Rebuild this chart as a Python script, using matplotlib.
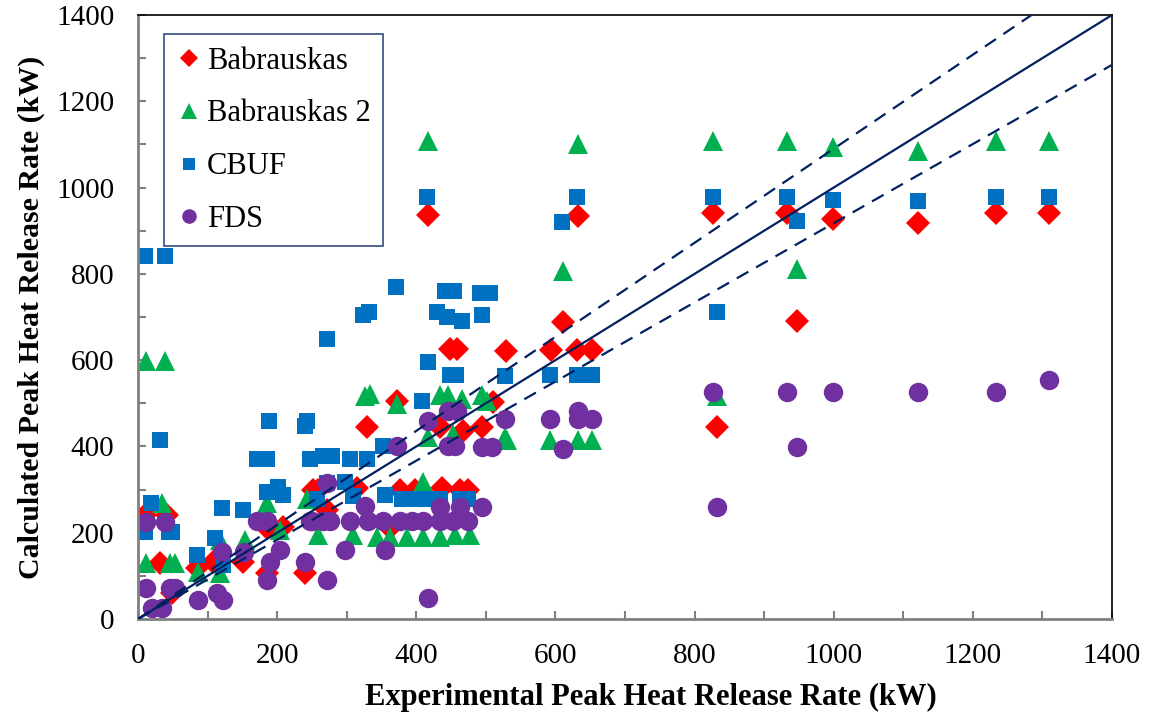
import matplotlib
matplotlib.use("Agg")
import matplotlib.pyplot as plt
import matplotlib.ticker as ticker
import numpy as np

# Babrauskas (diamonds)
bab_x = [10, 42, 32, 49, 85, 108, 151, 185, 240, 185, 208, 252, 272, 259, 315, 377, 398, 437,
         463, 474, 362, 329, 434, 467, 494, 510, 372, 448, 459, 529, 594, 631, 653, 611, 417,
         633, 826, 832, 933, 947, 999, 1121, 1233, 1310]
bab_y = [242, 242, 130, 60, 118, 133, 132, 107, 107, 211, 214, 300, 253, 300, 303, 300, 300, 303,
         300, 300, 212, 444, 444, 435, 444, 502, 505, 625, 625, 621, 623, 623, 623, 688, 937,
         935, 940, 444, 940, 691, 928, 919, 940, 940]

# Babrauskas 2 (triangles)
bab2_x = [11, 39, 34, 11, 46, 53, 86, 118, 118, 154, 204, 185, 243, 259, 309, 344, 362, 387, 410,
          434, 456, 477, 410, 326, 333, 372, 434, 446, 466, 494, 502, 417, 453, 528, 530, 592,
          633, 653, 417, 611, 633, 826, 832, 933, 947, 999, 1121, 1233, 1310]
bab2_y = [598, 598, 270, 130, 130, 130, 110, 107, 184, 184, 207, 270, 277, 195, 195, 190, 190, 190,
          190, 190, 195, 195, 318, 516, 521, 498, 520, 520, 510, 520, 505, 421, 428, 421, 416,
          416, 416, 416, 1107, 807, 1102, 1107, 516, 1107, 812, 1095, 1084, 1107, 1107]

# CBUF (squares)
cbuf_x = [10, 39, 32, 19, 10, 45, 49, 85, 110, 121, 122, 151, 171, 185, 188, 185, 201, 208, 240,
          243, 247, 266, 272, 272, 279, 305, 329, 298, 257, 309, 323, 332, 352, 355, 379, 398,
          413, 434, 463, 474, 408, 371, 415, 417, 430, 441, 444, 454, 466, 448, 457, 492, 506,
          494, 528, 592, 631, 653, 609, 631, 826, 832, 933, 947, 999, 1121, 1233, 1310]
cbuf_y = [842, 842, 416, 270, 202, 202, 202, 149, 188, 258, 125, 253, 370, 370, 458, 295, 307, 288,
          447, 458, 370, 377, 316, 649, 377, 370, 370, 318, 277, 284, 705, 712, 400, 288, 277,
          277, 277, 277, 277, 277, 505, 770, 979, 595, 711, 760, 700, 760, 690, 565, 565, 756,
          756, 705, 563, 565, 565, 565, 921, 979, 979, 711, 979, 923, 972, 970, 979, 979]

# FDS (circles)
fds_x = [11, 39, 11, 46, 53, 20, 34, 86, 113, 122, 121, 152, 171, 185, 190, 185, 204, 240, 250,
         266, 272, 247, 276, 305, 331, 352, 377, 394, 410, 434, 453, 474, 326, 434, 463, 494,
         298, 355, 272, 417, 372, 417, 446, 459, 528, 446, 456, 494, 509, 592, 633, 633, 653,
         611, 826, 832, 933, 947, 999, 1121, 1233, 1310]
fds_y = [225, 225, 72, 72, 72, 26, 26, 44, 60, 44, 156, 156, 228, 228, 133, 91, 160, 133, 226,
         226, 316, 228, 228, 228, 228, 228, 228, 228, 228, 228, 228, 228, 263, 260, 260, 260,
         160, 160, 91, 49, 400, 458, 481, 481, 463, 400, 400, 398, 398, 463, 481, 463, 463,
         395, 526, 260, 526, 398, 526, 526, 526, 553]

line_x = [0, 1400]
upper_factor = 1.09

plt.rcParams['font.family'] = ['Liberation Serif', 'DejaVu Serif']

fig = plt.figure(figsize=(11.56, 7.19), dpi=100)
ax = fig.add_axes([0.1194, 0.1391, 0.8425, 0.8400])

ax.plot(bab_x, bab_y, linestyle='none', marker='D', markersize=12, color='#FF0000',
        markeredgewidth=0, label='Babrauskas')
ax.plot(bab2_x, bab2_y, linestyle='none', marker='^', markersize=15, color='#00B050',
        markeredgewidth=0, label='Babrauskas 2')
ax.plot(cbuf_x, cbuf_y, linestyle='none', marker='s', markersize=11.5, color='#0070C0',
        markeredgewidth=0, label='CBUF')
ax.plot(fds_x, fds_y, linestyle='none', marker='o', markersize=14, color='#7030A0',
        markeredgewidth=0, label='FDS')

lx = np.array(line_x)
ax.plot(lx, lx, color='#002060', linewidth=1.6, zorder=5)
ax.plot(lx, lx * upper_factor, color='#002060', linewidth=1.6, linestyle=(0, (6, 4)), zorder=5)
ax.plot(lx, lx / upper_factor, color='#002060', linewidth=1.6, linestyle=(0, (6, 4)), zorder=5)

ax.set_xlim(0, 1400)
ax.set_ylim(0, 1400)
ax.xaxis.set_major_locator(ticker.MultipleLocator(200))
ax.xaxis.set_minor_locator(ticker.MultipleLocator(100))
ax.yaxis.set_major_locator(ticker.MultipleLocator(200))
ax.yaxis.set_minor_locator(ticker.MultipleLocator(100))
ax.tick_params(which='both', direction='in', length=6, width=1.5, color='#808080',
               labelsize=21, pad=17)

for side in ['left', 'bottom']:
    ax.spines[side].set_color('#808080')
    ax.spines[side].set_linewidth(2)
for side in ['top', 'right']:
    ax.spines[side].set_color('black')
    ax.spines[side].set_linewidth(1.2)

ax.set_xlabel('Experimental Peak Heat Release Rate (kW)', fontsize=22, fontweight='bold')
ax.xaxis.set_label_coords(0.527, -0.106)
ax.set_ylabel('Calculated Peak Heat Release Rate (kW)', fontsize=21.5, fontweight='bold', labelpad=8)

leg = ax.legend(loc='upper left', bbox_to_anchor=(0.027, 0.968), fontsize=22, frameon=True,
                fancybox=False, handletextpad=0.2, handlelength=0.8, labelspacing=0.78,
                borderpad=0.4, markerscale=0.75, borderaxespad=0)
leg.get_frame().set_edgecolor('#002060')
leg.get_frame().set_linewidth(1.2)

plt.savefig('out.png', dpi=100)
